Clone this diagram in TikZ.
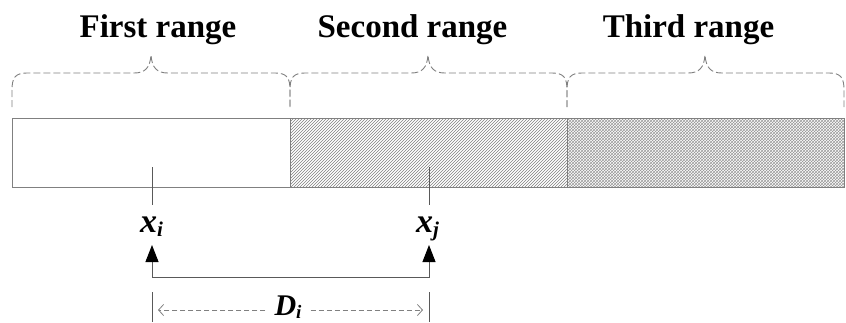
\documentclass[tikz,border=0pt]{standalone}
\usepackage{fontspec}
\setmainfont{Liberation Serif}
\usepackage{tikz}
\usetikzlibrary{positioning,patterns,arrows.meta}

\begin{document}
\begin{tikzpicture}[x=1pt, y=-1pt,
        rangetitle/.style={font=\fontsize{33}{36}\selectfont\bfseries, inner sep=0pt},
        rangebox/.style={draw=gray, line width=1pt, minimum height=69pt, inner sep=0pt, outer sep=0pt},
        braceline/.style={draw=gray, line width=0.9pt, dash pattern=on 7pt off 3pt},
        distline/.style={draw=gray, line width=0.8pt, dash pattern=on 5pt off 3pt},
        tickline/.style={draw=gray!70!black, line width=1pt},
        poslabel/.style={font=\fontsize{34}{36}\selectfont\bfseries\itshape, inner sep=0pt}]
        \useasboundingbox (0,0) rectangle (846,322);

        % Ranges
        \node (first) [rangebox, minimum width=278pt, anchor=north west] at (12,118) {};
        \node (second) [rangebox, minimum width=277pt, right=0pt of first, pattern=north east lines, pattern color=gray] {};
        \node (third) [rangebox, minimum width=277pt, right=0pt of second, pattern=crosshatch, pattern color=gray!80] {};

        % Titles
        \node (firsttitle) [rangetitle, anchor=base] at ([xshift=7pt, yshift=81pt]first.north) {First range};
        \node (secondtitle) [rangetitle, anchor=base] at ([xshift=-16pt, yshift=81pt]second.north) {Second range};
        \node (thirdtitle) [rangetitle, anchor=base] at ([xshift=-17pt, yshift=81pt]third.north) {Third range};

        % Braces
        \draw [braceline] (12,107) -- (12,90) .. controls (12,78) and (15,73) .. (27,73) -- (134,73)
            .. controls (145,73) and (150,68) .. (151,55) .. controls (152,68) and (157,73) .. (168,73)
            -- (275,73) .. controls (287,73) and (290,78) .. (290,90) -- (290,107);
        \draw [braceline] (290,107) -- (290,90) .. controls (290,78) and (293,73) .. (305,73) -- (411,73)
            .. controls (422,73) and (427,68) .. (428,55) .. controls (429,68) and (434,73) .. (445,73)
            -- (552,73) .. controls (564,73) and (567,78) .. (567,90) -- (567,107);
        \draw [braceline] (567,107) -- (567,90) .. controls (567,78) and (570,73) .. (582,73) -- (688,73)
            .. controls (699,73) and (704,68) .. (705,55) .. controls (706,68) and (711,73) .. (722,73)
            -- (829,73) .. controls (841,73) and (844,78) .. (844,90) -- (844,107);

        % Positions
        \coordinate (ti) at (152,167);
        \coordinate (tiend) at (152,205);
        \coordinate (tj) at (429,167);
        \coordinate (tjend) at (429,205);
        \node (xi) [poslabel, anchor=base] at (151.5,232) {x\raisebox{-4pt}{\fontsize{21}{21}\selectfont i}};
        \node (xj) [poslabel, anchor=base] at (427.5,232) {x\raisebox{-4pt}{\fontsize{21}{21}\selectfont j}};
        \draw [tickline] (ti) -- (tiend);
        \draw [tickline] (tj) -- (tjend);

        % Arrows
        \coordinate (ai) at (152,245);
        \coordinate (aj) at (429,245);
        \draw [tickline, {Triangle[length=17pt,width=13pt,color=black]}-{Triangle[length=17pt,width=13pt,color=black]}] (ai) -- ++(0,32) -| (aj);

        % Distance
        \coordinate (di) at (152,292);
        \coordinate (diend) at (152,322);
        \coordinate (dj) at (429,292);
        \coordinate (djend) at (429,322);
        \draw [tickline] (di) -- (diend);
        \draw [tickline] (dj) -- (djend);
        \node (dist) [poslabel, font=\fontsize{30}{32}\selectfont\bfseries\itshape, anchor=base] at (288,315) {D\raisebox{-3pt}{\fontsize{19}{19}\selectfont i}};
        \coordinate (ei) at (158,310);
        \coordinate (ej) at (423,310);
        \draw [distline, -{Straight Barb[length=5pt,width=11pt]}, shorten <=9pt] (dist.west |- ei) -- (ei);
        \draw [distline, -{Straight Barb[length=5pt,width=11pt]}, shorten <=9pt] (dist.east |- ej) -- (ej);
    \end{tikzpicture}
\end{document}
